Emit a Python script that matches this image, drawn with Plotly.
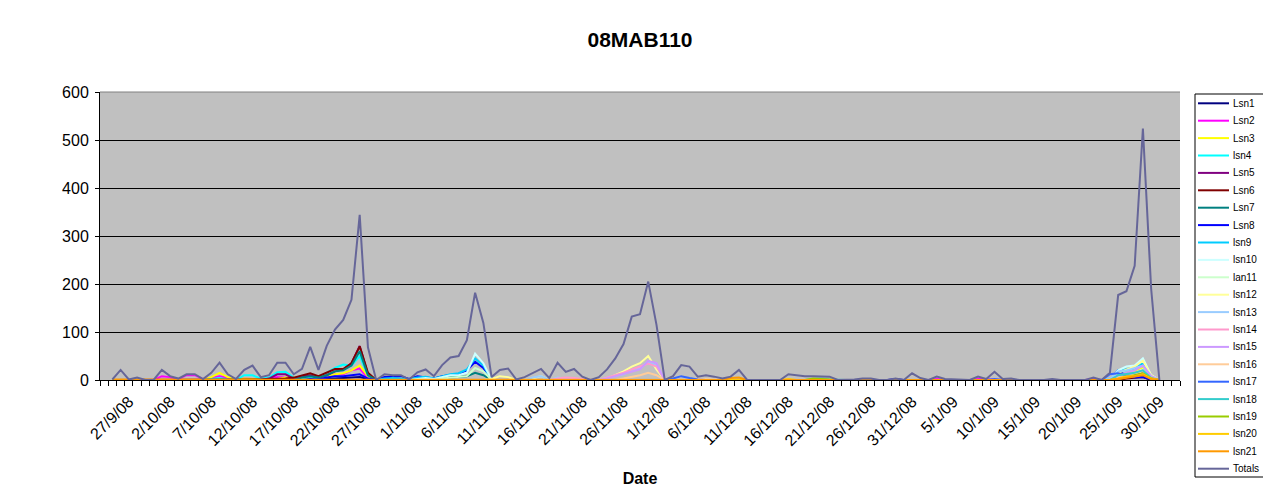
import plotly.graph_objects as go
import pandas as pd

# Daily categories (data from 25/9/08 to 30/1/09)
dates = pd.date_range("2008-09-25", "2009-01-30", freq="D")

series_names = ["Lsn1", "Lsn2", "Lsn3", "lsn4", "Lsn5", "Lsn6", "Lsn7", "Lsn8",
                "lsn9", "lsn10", "lan11", "lsn12", "lsn13", "lsn14", "lsn15",
                "lsn16", "lsn17", "lsn18", "lsn19", "lsn20", "lsn21", "Totals"]

series_colors = ["#000080", "#FF00FF", "#FFFF00", "#00FFFF", "#800080", "#800000",
                 "#008080", "#0000FF", "#00CCFF", "#CCFFFF", "#CCFFCC", "#FFFF99",
                 "#99CCFF", "#FF99CC", "#CC99FF", "#FFCC99", "#3366FF", "#33CCCC",
                 "#99CC00", "#FFCC00", "#FF9900", "#666699"]

lsn1 = [0,0,0,0,0,0,1,0,0,0,0,0,1,0,0,0,
        0,0,0,0,0,1,0,0,0,0,2,3,4,5,6,2,
        0,1,2,1,0,0,0,0,0,0,0,0,0,0,0,0,
        0,0,0,0,0,0,0,0,0,0,0,0,0,0,0,0,
        0,0,0,0,0,0,0,0,0,0,0,0,0,0,0,0,
        0,0,0,0,0,0,0,0,0,0,0,0,0,0,0,0,
        0,0,0,0,0,0,0,0,0,0,0,0,0,0,0,0,
        0,0,0,0,0,0,0,0,0,0,3,5,12,8,2,0]
lsn2 = [0,0,0,0,0,0,8,6,2,10,10,2,4,8,4,1,
        3,2,1,3,6,5,2,4,8,4,8,12,12,20,24,4,
        0,0,0,0,0,0,0,0,0,0,0,0,0,0,0,0,
        0,0,0,0,0,0,0,0,0,0,0,0,0,0,0,0,
        0,0,0,0,0,0,0,0,0,0,0,0,0,0,0,0,
        0,0,0,0,0,0,0,0,0,0,0,0,0,0,0,0,
        0,0,0,0,2,0,0,0,0,2,1,0,0,0,0,0,
        0,0,0,0,0,0,0,2,0,0,3,6,8,12,3,0]
lsn3 = [0,0,0,0,0,0,0,0,0,0,0,0,6,15,6,1,
        3,2,0,0,2,5,6,3,2,2,8,12,14,20,30,8,
        0,0,0,0,0,0,0,0,0,0,0,0,0,0,0,0,
        0,0,0,0,0,0,0,0,0,0,0,0,0,0,0,0,
        0,0,0,0,0,0,0,0,0,0,0,0,0,0,0,0,
        0,0,0,0,0,0,0,0,0,0,0,0,0,0,0,0,
        0,0,0,0,0,0,0,0,0,0,0,0,0,0,0,0,
        0,0,0,0,0,0,0,0,0,0,6,12,18,25,5,0]
lsn4 = [0,0,0,0,0,0,0,0,0,0,0,0,2,4,1,0,
        10,10,3,5,16,17,5,4,6,3,15,25,32,30,50,10,
        0,0,0,0,0,0,0,0,0,0,0,0,0,0,0,0,
        0,0,0,0,0,0,0,0,0,0,0,0,0,0,0,0,
        0,0,0,0,0,0,0,0,0,0,0,0,0,0,0,0,
        0,0,0,0,0,0,0,0,0,0,0,0,0,0,0,0,
        0,0,0,0,0,0,0,0,0,0,0,0,0,0,0,0,
        0,0,0,0,0,0,0,0,0,2,15,20,25,30,6,0]
lsn5 = [0,0,0,0,0,0,0,0,0,0,0,0,0,0,0,0,
        0,0,0,3,12,12,3,8,10,5,10,18,22,35,71,12,
        0,0,0,0,0,0,0,0,0,0,0,0,0,0,0,0,
        0,0,0,0,0,0,0,0,0,0,0,0,0,0,0,0,
        0,0,0,0,0,0,0,0,0,0,0,0,0,0,0,0,
        0,0,0,0,0,0,0,0,0,0,0,0,0,0,0,0,
        0,0,0,0,0,0,0,0,0,0,0,0,0,0,0,0,
        0,0,0,0,0,0,0,0,0,0,4,12,10,18,3,0]
lsn6 = [0,0,0,0,0,0,0,0,0,0,0,0,0,0,0,0,
        0,0,1,2,2,3,5,10,14,8,15,23,23,35,70,15,
        0,0,0,0,0,0,0,0,0,0,0,0,0,0,0,0,
        0,0,0,0,0,0,0,0,0,0,0,0,0,0,0,0,
        0,0,0,0,0,0,0,0,0,0,0,0,0,0,0,0,
        0,0,0,0,0,0,0,0,0,0,0,0,0,0,0,0,
        0,0,0,0,0,0,0,0,0,0,0,0,0,0,0,0,
        0,0,0,0,0,0,0,0,0,0,0,3,5,6,0,0]
lsn7 = [0,0,0,0,0,0,0,0,0,0,0,0,0,0,0,0,
        0,0,0,0,0,0,0,5,8,5,10,18,20,30,60,10,
        0,1,1,2,0,1,2,1,2,5,7,8,15,10,0,0,
        0,0,0,0,0,0,0,0,0,0,0,0,0,0,0,0,
        0,0,0,0,0,0,0,0,0,0,0,0,0,0,0,0,
        0,0,0,0,0,0,0,0,0,0,0,0,0,0,0,0,
        0,0,0,0,0,0,0,0,0,0,0,0,0,0,0,0,
        0,0,0,0,0,0,0,0,0,0,5,6,8,10,2,0]
lsn8 = [0,0,0,0,0,0,0,0,0,0,0,0,0,0,0,0,
        0,0,0,0,0,0,0,0,2,1,5,8,8,10,12,3,
        0,6,6,8,2,8,6,3,8,10,13,20,38,25,0,0,
        0,0,0,0,0,0,0,0,0,0,0,0,0,0,0,0,
        0,0,0,0,0,0,0,0,0,0,0,0,0,0,0,0,
        0,0,0,0,0,0,0,0,0,0,0,0,0,0,0,2,
        0,0,0,0,0,0,0,0,0,0,0,0,0,0,0,0,
        0,0,0,0,0,0,0,0,0,0,20,8,5,6,1,0]
lsn9 = [0,0,0,0,0,0,0,0,0,0,0,0,0,0,0,0,
        0,0,0,0,0,0,0,0,0,0,0,0,0,0,0,0,
        0,3,4,3,2,5,7,3,8,12,14,22,45,30,0,0,
        0,0,0,0,0,0,0,0,0,0,0,0,0,0,0,0,
        0,0,0,0,0,0,0,0,0,0,0,0,0,0,0,0,
        0,0,0,0,0,0,0,0,0,0,0,0,0,0,0,0,
        0,0,0,0,0,0,0,0,0,0,0,0,0,0,0,0,
        0,0,0,0,0,0,0,0,0,0,20,22,25,35,6,0]
lsn10 = [0,0,0,0,0,0,0,0,0,0,0,0,0,0,0,0,
         0,0,0,0,0,0,0,0,0,0,0,0,0,0,0,0,
         0,0,0,0,0,2,4,2,6,10,10,15,55,35,0,0,
         0,0,0,0,0,0,0,0,0,0,0,0,0,0,0,0,
         0,0,0,0,0,0,0,0,0,0,0,0,0,0,0,0,
         0,0,0,0,0,0,0,0,0,0,0,0,0,0,0,0,
         0,0,0,0,0,0,0,0,0,0,0,0,0,0,0,0,
         0,0,0,0,0,0,0,0,0,0,20,28,30,45,10,0]
lan11 = [0,0,0,0,0,0,0,0,0,0,0,0,0,0,0,0,
         0,0,0,0,0,0,0,0,0,0,0,0,0,0,0,0,
         0,0,0,0,0,0,0,0,3,5,6,8,25,18,0,0,
         0,0,0,0,0,0,0,0,0,0,0,0,0,0,0,0,
         0,0,0,0,0,0,0,0,0,0,0,0,0,0,0,0,
         0,0,0,0,0,0,0,0,0,0,0,0,0,0,0,0,
         0,0,0,0,0,0,0,0,0,0,0,0,0,0,0,0,
         0,0,0,0,0,0,0,0,0,0,8,10,15,22,5,0]
lsn12 = [0,0,0,0,0,0,0,0,0,0,0,0,0,0,0,0,
         0,0,0,0,0,0,0,0,0,0,0,0,0,0,0,0,
         0,0,0,0,0,0,0,0,0,0,0,0,0,0,2,8,
         6,0,0,3,8,0,3,1,2,0,0,0,3,10,18,28,
         35,50,22,0,0,0,0,1,1,0,0,0,0,0,0,0,
         0,0,0,0,0,0,0,0,0,0,0,0,0,0,0,0,
         0,0,0,0,0,0,0,0,0,0,0,0,0,0,0,0,
         0,0,0,0,0,0,0,0,0,0,15,22,28,40,10,0]
lsn13 = [0,0,0,0,0,0,0,0,0,0,0,0,0,0,0,0,
         0,0,0,0,0,0,0,0,0,0,0,0,0,0,0,0,
         0,0,0,0,0,0,0,0,0,0,0,0,0,0,0,0,
         0,0,0,5,8,0,5,3,0,0,0,0,5,8,12,20,
         25,38,30,0,0,0,0,0,0,0,0,0,0,0,0,0,
         0,0,0,0,0,0,0,0,0,0,0,0,0,0,0,0,
         0,0,0,0,0,0,0,0,0,0,0,0,0,0,0,0,
         0,0,0,0,0,0,0,0,0,2,18,20,25,30,8,0]
lsn14 = [0,0,0,0,0,0,0,0,0,0,0,0,0,0,0,0,
         0,0,0,0,0,0,0,0,0,0,0,0,0,0,0,0,
         0,0,0,0,0,0,0,0,0,0,0,0,0,0,0,0,
         0,0,0,0,0,0,3,5,4,2,0,0,5,10,15,22,
         28,34,28,0,0,0,0,0,0,0,0,0,0,0,0,0,
         0,0,0,0,0,0,0,0,0,0,0,0,0,0,0,0,
         0,0,0,0,0,0,0,0,0,0,0,0,0,0,0,0,
         0,0,0,0,0,0,0,0,0,0,5,10,15,20,5,0]
lsn15 = [0,0,0,0,0,0,0,0,0,0,0,0,0,0,0,0,
         0,0,0,0,0,0,0,0,0,0,0,0,0,0,0,0,
         0,0,0,0,0,0,0,0,0,0,0,0,0,0,0,0,
         0,0,0,0,0,0,0,0,0,0,0,0,3,8,12,18,
         22,40,35,0,0,0,0,0,0,0,0,0,0,0,0,0,
         0,0,0,0,0,0,0,0,0,0,0,0,0,0,0,0,
         0,0,0,0,0,0,0,0,0,0,0,0,0,0,0,0,
         0,0,0,0,0,0,0,0,0,0,10,15,20,30,8,0]
lsn16 = [0,0,0,0,0,0,0,0,0,0,0,0,0,0,0,0,
         0,0,0,0,0,0,0,0,0,0,0,0,0,0,0,0,
         0,0,0,0,0,0,0,0,0,0,0,0,0,0,0,0,
         0,0,0,0,0,0,0,0,0,0,0,0,0,0,3,6,
         10,15,10,0,0,0,0,2,1,0,0,0,0,0,0,0,
         0,0,0,0,0,0,0,0,0,0,0,0,0,0,0,0,
         0,0,0,0,0,0,0,0,0,0,0,0,0,0,0,0,
         0,0,0,0,0,0,0,0,0,0,3,8,12,18,5,0]
lsn17 = [0,0,0,0,0,0,0,0,0,0,0,0,0,0,0,0,
         0,0,0,0,0,0,0,0,0,0,0,0,0,0,0,0,
         0,0,0,0,0,0,0,0,0,0,0,0,0,0,0,0,
         0,0,0,0,0,0,0,0,0,0,0,0,0,0,0,0,
         0,0,0,0,3,8,4,1,0,0,0,0,0,0,0,0,
         0,0,0,0,0,0,0,0,0,0,0,0,0,0,0,0,
         0,1,0,0,0,0,1,0,0,0,0,2,0,0,0,0,
         0,0,0,0,0,0,0,0,0,12,14,10,8,12,2,0]
lsn18 = [0,0,0,0,0,0,0,0,0,0,0,0,0,0,0,0,
         0,0,0,0,0,0,0,0,0,0,0,0,0,0,0,0,
         0,0,0,0,0,0,0,0,0,0,0,0,0,0,0,0,
         0,0,0,0,0,0,0,0,0,0,0,0,0,0,0,0,
         0,0,0,0,0,0,0,0,0,0,0,0,0,0,0,0,
         0,0,0,0,0,2,3,1,0,0,0,0,0,0,0,0,
         0,0,0,0,0,0,0,0,0,0,0,0,0,0,0,0,
         0,0,0,0,0,0,0,0,0,0,10,12,15,20,4,0]
lsn19 = [0,0,0,0,0,0,0,0,0,0,0,0,0,0,0,0,
         0,0,0,0,0,0,0,0,0,0,0,0,0,0,0,0,
         0,0,0,0,0,0,0,0,0,0,0,0,0,0,0,0,
         0,0,0,0,0,0,0,0,0,0,0,0,0,0,0,0,
         0,0,0,0,0,0,0,0,0,0,0,0,0,0,0,0,
         0,0,0,0,0,3,2,0,0,0,0,0,0,0,0,0,
         0,0,0,0,0,0,0,0,0,0,0,0,0,0,0,0,
         0,0,0,0,0,0,0,0,0,0,2,6,10,14,3,0]
lsn20 = [0,0,0,0,0,0,0,0,0,0,0,0,0,0,0,0,
         0,0,0,0,0,0,0,0,0,0,0,0,0,0,0,0,
         0,0,0,0,0,0,0,0,0,0,0,0,0,0,0,0,
         0,0,0,0,0,0,0,0,0,0,0,0,0,0,0,0,
         0,0,0,0,0,0,0,0,0,0,0,0,0,1,0,0,
         0,0,2,0,0,0,0,0,0,0,0,0,0,0,0,0,
         0,0,0,0,0,0,0,0,0,0,0,0,0,0,0,0,
         0,0,0,0,0,0,0,0,0,0,3,8,8,12,3,0]
lsn21 = [1,1,0,0,0,0,0,0,0,0,0,0,0,0,0,0,
         0,0,0,0,0,0,0,0,0,0,0,0,0,0,0,0,
         0,0,0,0,0,0,0,0,0,0,0,0,0,0,0,0,
         0,0,0,0,0,0,0,0,0,0,0,0,0,0,0,0,
         0,0,0,0,0,0,0,0,0,0,0,4,5,0,0,0,
         0,0,0,0,0,0,0,0,1,0,0,0,0,0,0,0,
         0,0,0,0,0,0,0,0,0,0,0,0,0,0,0,0,
         0,0,0,0,0,0,0,0,0,0,2,5,8,10,2,0]
totals = [1,21,1,5,0,0,21,8,3,12,12,2,15,36,12,2,
          21,30,6,10,36,36,12,23,69,21,71,105,125,167,344,68,
          0,12,10,10,1,16,22,8,31,47,50,83,182,119,6,21,
          24,1,6,14,23,4,36,17,23,7,0,6,22,45,75,132,
          137,205,115,0,8,31,28,7,10,7,3,7,21,0,0,0,
          0,0,12,10,8,8,7,7,0,0,1,3,3,0,0,3,
          0,14,4,0,7,2,1,0,0,7,2,17,2,3,0,0,
          0,0,2,0,0,0,0,5,0,15,177,185,238,524,190,0]

all_series = [lsn1, lsn2, lsn3, lsn4, lsn5, lsn6, lsn7, lsn8, lsn9, lsn10, lan11,
              lsn12, lsn13, lsn14, lsn15, lsn16, lsn17, lsn18, lsn19, lsn20, lsn21, totals]

FONT = "Arial, Liberation Sans, sans-serif"
W, H = 1263, 497
PL, PR, PT, PB = 100, 1180, 92, 380   # plot area in pixels

def px_x(px):
    return (px - PL) / (PR - PL)

def px_y(py):
    return (PB - py) / (PB - PT)

fig = go.Figure()
for name, color, vals in zip(series_names, series_colors, all_series):
    fig.add_trace(go.Scatter(x=dates, y=vals, mode="lines", name=name,
                             line=dict(color=color, width=2), showlegend=False))

# Manual legend (Excel-style box, partly cut off on the right)
shapes = [dict(type="rect", xref="paper", yref="paper",
               x0=px_x(1195), x1=px_x(1300), y0=px_y(477), y1=px_y(94),
               line=dict(color="black", width=1), fillcolor="white", layer="above"),
          # plot-area top border (grey)
          dict(type="line", xref="paper", yref="paper", x0=0, x1=1, y0=1, y1=1,
               line=dict(color="#808080", width=1), layer="above")]
annotations = []
for k, (name, color) in enumerate(zip(series_names, series_colors)):
    yk = 103.3 + 17.4 * k
    shapes.append(dict(type="line", xref="paper", yref="paper",
                       x0=px_x(1198), x1=px_x(1229), y0=px_y(yk), y1=px_y(yk),
                       line=dict(color=color, width=2), layer="above"))
    annotations.append(dict(text=name, xref="paper", yref="paper",
                            x=px_x(1231), y=px_y(yk), xanchor="left", yanchor="middle",
                            showarrow=False, font=dict(family=FONT, size=10, color="black")))

fig.update_layout(
    width=W, height=H,
    margin=dict(l=PL, r=W - PR, t=PT, b=H - PB, autoexpand=False),
    paper_bgcolor="white", plot_bgcolor="#C0C0C0",
    font=dict(family=FONT, color="black"),
    title=dict(text="<b>08MAB110</b>", x=0.5, xref="paper", xanchor="center",
               y=1 - 40 / H, yref="container", yanchor="middle",
               font=dict(family=FONT, size=21, color="black")),
    shapes=shapes, annotations=annotations,
    showlegend=False,
)

fig.update_xaxes(
    type="date",
    range=["2008-09-23 12:00", "2009-02-01 12:00"],
    tick0="2008-09-27", dtick=5 * 86400000,
    tickformat="%-d/%-m/%y", tickangle=-45,
    tickfont=dict(family=FONT, size=16, color="black"),
    ticks="outside", ticklen=5, tickcolor="rgba(0,0,0,0)",
    minor=dict(ticks="outside", ticklen=5, tickcolor="black", tickwidth=1,
               dtick=86400000, tick0="2008-09-23 12:00", showgrid=False),
    showgrid=False, showline=True, linecolor="black", linewidth=1,
    zeroline=False,
    title=dict(text="<b>Date</b>", font=dict(family=FONT, size=16, color="black"),
               standoff=24),
)
fig.update_yaxes(
    range=[0, 600], dtick=100, tick0=0,
    tickfont=dict(family=FONT, size=16, color="black"),
    ticks="outside", ticklen=4, tickcolor="black", ticklabelstandoff=3,
    showgrid=True, gridcolor="black", gridwidth=1,
    showline=True, linecolor="black", linewidth=1,
    zeroline=False,
)

fig.write_html("out.html", config={"displayModeBar": False},
               post_script="document.body.style.margin='0';document.body.style.overflow='hidden';")
